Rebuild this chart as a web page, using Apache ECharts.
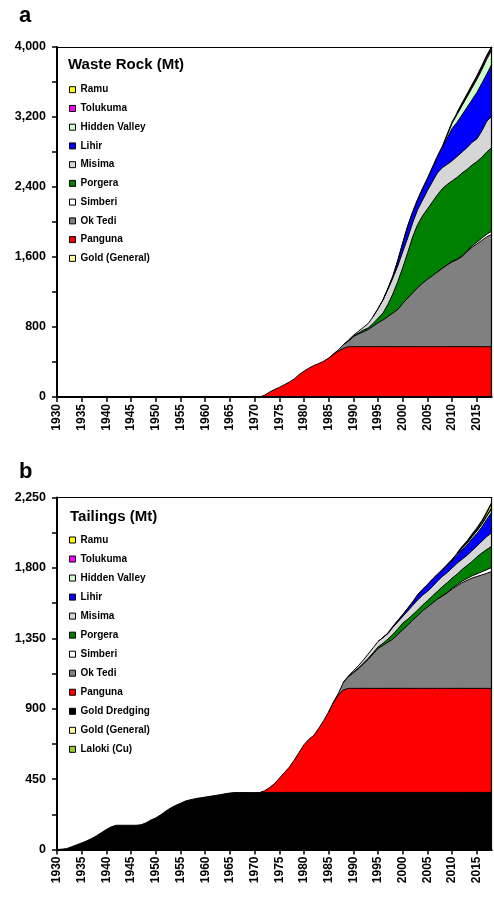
<!DOCTYPE html>
<html><head><meta charset="utf-8">
<script src="https://cdn.jsdelivr.net/npm/echarts@6/dist/echarts.min.js"></script>
<style>html,body{margin:0;padding:0;background:#fff}#c{width:494px;height:899px}</style>
</head><body><div id="c"></div>
<script>
// ---- axis ticks / labels ----
const xTickYears = [1930,1935,1940,1945,1950,1955,1960,1965,1970,1975,1980,1985,1990,1995,2000,2005,2010,2015];
const yTicksA = [0,400,800,1200,1600,2000,2400,2800,3200,3600,4000];
const yLabelsA = [0,800,1600,2400,3200,4000];
const yTicksB = [0,225,450,675,900,1125,1350,1575,1800,2025,2250];
const yLabelsB = [0,450,900,1350,1800,2250];

// ---- series names (legend order, top of stack first) ----
const wasteNames = ['Ramu','Tolukuma','Hidden Valley','Lihir','Misima','Porgera','Simberi','Ok Tedi','Panguna','Gold (General)'];
const tailNames  = ['Ramu','Tolukuma','Hidden Valley','Lihir','Misima','Porgera','Simberi','Ok Tedi','Panguna','Gold Dredging','Gold (General)','Laloki (Cu)'];

// ---- (a) Waste rock, Mt: cumulative stacked level at the top of each layer, one value per year from the start year ----
const wrStart = [2011,1994,2008,1996,1988,1989,2007,1985,1970,1970];
const wrRamu = [3248,3352,3456,3561,3665,3778,3900,3998];
const wrTolukuma = [920,1012,1113,1244,1385,1566,1767,1958,2119,2260,2386,2502,2628,2754,2865,3006,3147,3248,3349,3450,3552,3653,3764,3885,3990];
const wrHiddenValley = [2850,2990,3130,3230,3330,3430,3530,3630,3740,3860,3965];
const wrLihir = [1110,1240,1380,1560,1760,1950,2110,2250,2375,2490,2615,2740,2850,2960,3070,3140,3225,3310,3395,3480,3585,3690,3800];
const wrMisima = [600,650,705,750,795,840,920,1010,1110,1230,1360,1500,1660,1820,1990,2140,2250,2360,2460,2560,2620,2660,2700,2750,2800,2850,2910,2950,3040,3150,3210];
const wrPorgera = [640,695,730,765,790,840,900,960,1060,1180,1320,1480,1650,1830,1970,2070,2150,2230,2310,2380,2430,2470,2510,2560,2600,2650,2690,2740,2800,2850];
const wrSimberi = [1430,1472,1513,1550,1577,1614,1672,1725,1770,1815,1860,1895];
const wrOkTedi = [445,495,540,600,640,690,720,745,770,810,850,880,920,960,1000,1070,1130,1190,1250,1300,1345,1385,1430,1470,1510,1545,1570,1605,1660,1710,1750,1790,1830,1860];
const wrPanguna = [0,0,20,55,85,110,140,170,205,255,295,330,360,383,410,445,490,525,555,575,575,575,575,575,575,575,575,575,575,575,575,575,575,575,575,575,575,575,575,575,575,575,575,575,575,575,575,575,575];
const wrGoldGeneral = [0,0,0,0,0,0,0,0,0,0,0,0,0,0,0,0,0,0,0,0,0,0,0,0,0,0,0,0,0,0,0,0,0,0,0,0,0,0,0,0,0,0,0,0,0,0,0,0,0];

// ---- (b) Tailings, Mt: cumulative stacked level at the top of each layer ----
const tStart = [2011,1995,2008,1996,1988,1989,2007,1985,1971,1930,1930,1930];
const tRamu = [1893,1934,1968,2012,2052,2098,2155,2215];
const tTolukuma = [1330,1356,1384,1427,1465,1503,1543,1584,1629,1664,1694,1729,1760,1790,1823,1856,1893,1930,1962,2004,2041,2083,2135,2184];
const tHiddenValley = [1785,1818,1851,1888,1925,1957,1999,2036,2078,2130,2178];
const tLihir = [1355,1382,1425,1462,1500,1540,1580,1625,1660,1690,1725,1755,1785,1815,1845,1880,1915,1945,1985,2020,2060,2110,2155];
const tMisima = [1070,1110,1142,1175,1210,1250,1290,1330,1355,1380,1420,1455,1490,1525,1560,1595,1625,1650,1680,1715,1745,1770,1800,1830,1855,1880,1910,1940,1970,2000,2024];
const tPorgera = [1105,1133,1160,1190,1222,1258,1295,1318,1345,1375,1410,1447,1472,1500,1530,1562,1590,1620,1650,1680,1705,1735,1760,1790,1815,1840,1870,1895,1918,1938];
const tSimberi = [1600,1622,1644,1671,1693,1715,1732,1749,1762,1775,1788,1803];
const tOkTedi = [880,945,1000,1070,1105,1130,1155,1185,1215,1250,1285,1305,1325,1345,1375,1405,1435,1465,1495,1525,1550,1575,1600,1620,1640,1665,1685,1705,1720,1735,1745,1755,1765,1777];
const tPanguna = [364,375,395,420,455,490,525,570,620,670,705,730,775,825,880,940,990,1020,1030,1030,1030,1030,1030,1030,1030,1030,1030,1030,1030,1030,1030,1030,1030,1030,1030,1030,1030,1030,1030,1030,1030,1030,1030,1030,1030,1030,1030,1030];
const tGoldDredging = [0,2,6,18,30,42,55,70,88,108,128,145,155,155,155,155,155,158,170,188,202,222,245,265,282,295,310,318,325,330,335,340,345,350,356,361,364,364,364,364,364,364,365,365,365,365,365,365,365,365,365,365,365,365,365,365,365,365,365,365,365,365,365,365,365,365,365,365,365,365,365,365,365,365,365,365,365,365,365,365,365,365,365,365,365,365,365,365,365];
const tGoldGeneral = [0,0,0,0,0,0,0,0,0,0,0,0,0,0,0,0,0,0,0,0,0,0,0,0,0,0,0,0,0,0,0,0,0,0,0,0,0,0,0,0,0,0,0,0,0,0,0,0,0,0,0,0,0,0,0,0,0,0,0,0,0,0,0,0,0,0,0,0,0,0,0,0,0,0,0,0,0,0,0,0,0,0,0,0,0,0,0,0,0];
const tLaloki = [0,0,0,0,0,0,0,0,0,0,0,0,0,0,0,0,0,0,0,0,0,0,0,0,0,0,0,0,0,0,0,0,0,0,0,0,0,0,0,0,0,0,0,0,0,0,0,0,0,0,0,0,0,0,0,0,0,0,0,0,0,0,0,0,0,0,0,0,0,0,0,0,0,0,0,0,0,0,0,0,0,0,0,0,0,0,0,0,0];

const wrLayers = [wrRamu,wrTolukuma,wrHiddenValley,wrLihir,wrMisima,wrPorgera,wrSimberi,wrOkTedi,wrPanguna,wrGoldGeneral];
const tLayers = [tRamu,tTolukuma,tHiddenValley,tLihir,tMisima,tPorgera,tSimberi,tOkTedi,tPanguna,tGoldDredging,tGoldGeneral,tLaloki];

// ---- styling ----
const colors = {
  'Ramu':'#ffff00','Tolukuma':'#ff00ff','Hidden Valley':'#ccffcc','Lihir':'#0000ff','Misima':'#d6d6d6',
  'Porgera':'#008000','Simberi':'#ffffff','Ok Tedi':'#808080','Panguna':'#ff0000','Gold Dredging':'#000000',
  'Gold (General)':'#ffff99','Laloki (Cu)':'#99cc33'
};
const font = '"Liberation Sans", Arial, Helvetica, sans-serif';

function makeSeries(names, layers, starts, axisIdx) {
  return names.map((n, i) => ({
    name: n, type: 'line', xAxisIndex: axisIdx, yAxisIndex: axisIdx,
    symbol: 'none', silent: true, animation: false,
    data: layers[i].map((v, k) => [starts[i] + k, v]),
    lineStyle: { color: '#000', width: i === 0 ? 1.5 : 1 },
    itemStyle: { color: colors[n] },
    areaStyle: { color: colors[n], opacity: 1 },
    emphasis: { disabled: true }
  }));
}
function xAx(g) {
  return { type: 'value', gridIndex: g, min: 1930, max: 2018, z: 10,
    axisLine: { show: true, onZero: false, lineStyle: { color: '#000', width: 2 } },
    axisTick: { show: true, inside: false, length: 5, customValues: xTickYears, lineStyle: { color: '#000', width: 1.5 } },
    axisLabel: { show: true, rotate: 90, customValues: xTickYears, margin: 7, color: '#000', fontSize: 12, fontWeight: 'bold', fontFamily: font,
      formatter: v => String(v) },
    splitLine: { show: false } };
}
function yAx(g, max, ticks, labels) {
  return { type: 'value', gridIndex: g, min: 0, max: max, z: 10,
    axisLine: { show: true, onZero: false, lineStyle: { color: '#000', width: 2 } },
    axisTick: { show: true, inside: false, length: 5, customValues: ticks, lineStyle: { color: '#000', width: 1.5 } },
    axisLabel: { show: true, customValues: labels, margin: 11, color: '#000', fontSize: 12.5, fontWeight: 'bold', fontFamily: font,
      formatter: v => v.toLocaleString('en-US') },
    splitLine: { show: false } };
}
function frameX(g) {
  return { type: 'value', gridIndex: g, position: 'top', min: 1930, max: 2018, z: 10,
    axisLine: { show: true, onZero: false, lineStyle: { color: '#000', width: 1.2 } },
    axisTick: { show: false }, axisLabel: { show: false }, splitLine: { show: false } };
}
function frameY(g, max) {
  return { type: 'value', gridIndex: g, position: 'right', min: 0, max: max, z: 10,
    axisLine: { show: true, onZero: false, lineStyle: { color: '#000', width: 1.2 } },
    axisTick: { show: false }, axisLabel: { show: false }, splitLine: { show: false } };
}
function legend(names, top, gap) {
  return { orient: 'vertical', left: 69, top: top, padding: 0, itemWidth: 6, itemHeight: 6, itemGap: gap,
    selectedMode: false, icon: 'rect',
    itemStyle: { borderColor: '#000', borderWidth: 1 },
    textStyle: { fontSize: 10, fontWeight: 'bold', fontFamily: font, color: '#000', lineHeight: 12 },
    data: names.map(n => ({ name: n, itemStyle: { color: colors[n], borderColor: '#000', borderWidth: 1 } })) };
}

const chart = echarts.init(document.getElementById('c'), null, { renderer: 'canvas' });
chart.setOption({
  animation: false,
  backgroundColor: '#fff',
  grid: [
    { left: 57, top: 47, right: 2.3, height: 350 },
    { left: 57, top: 497.5, right: 2.3, height: 352 }
  ],
  xAxis: [xAx(0), xAx(1), frameX(0), frameX(1)],
  yAxis: [yAx(0, 4000, yTicksA, yLabelsA), yAx(1, 2250, yTicksB, yLabelsB), frameY(0, 4000), frameY(1, 2250)],
  legend: [legend(wasteNames, 83.7, 6.74), legend(tailNames, 534, 7.03)],
  graphic: [
    { type: 'text', x: 19, y: 16, style: { text: 'a', font: 'bold 22px ' + font, fill: '#000', textAlign: 'left', textVerticalAlign: 'middle' } },
    { type: 'text', x: 19, y: 472, style: { text: 'b', font: 'bold 22px ' + font, fill: '#000', textAlign: 'left', textVerticalAlign: 'middle' } },
    { type: 'text', x: 68, y: 65, style: { text: 'Waste Rock (Mt)', font: 'bold 15px ' + font, fill: '#000', textAlign: 'left', textVerticalAlign: 'middle' } },
    { type: 'text', x: 70, y: 516.5, style: { text: 'Tailings (Mt)', font: 'bold 15px ' + font, fill: '#000', textAlign: 'left', textVerticalAlign: 'middle' } }
  ],
  series: makeSeries(wasteNames, wrLayers, wrStart, 0).concat(makeSeries(tailNames, tLayers, tStart, 1))
});
</script></body></html>
